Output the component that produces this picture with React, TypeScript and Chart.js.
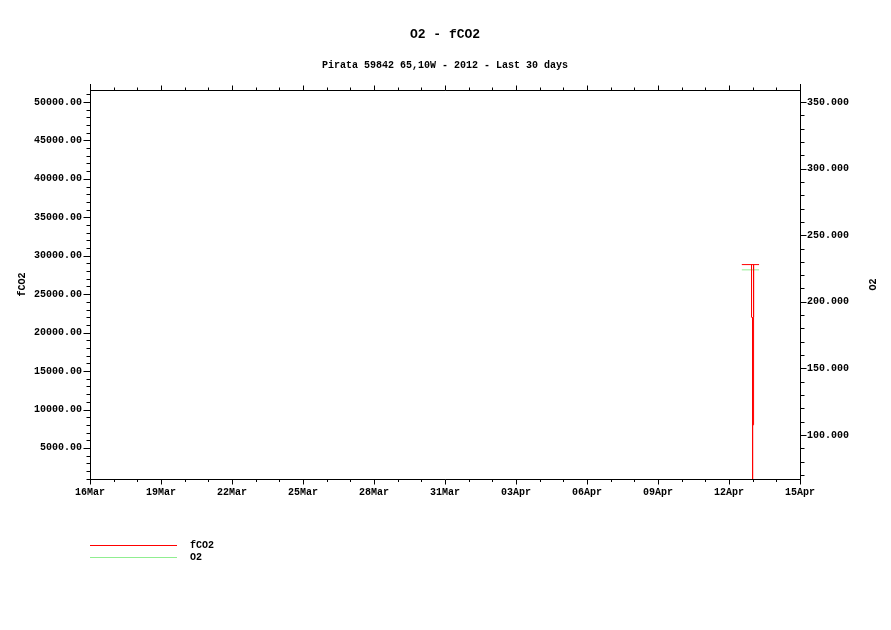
import React, { useEffect, useRef } from "react";
import { Chart, registerables } from "chart.js";

Chart.register(...registerables);

// ---------- text ----------
const TITLE = "O2 - fCO2";
const SUBTITLE = "Pirata 59842 65,10W - 2012 - Last 30 days";
const FCO2_LABEL = "fCO2";
const O2_LABEL = "O2";

// ---------- time axis ----------
const START_DATE = "2012-03-16T00:00";
const X_MIN_DAY = 0;
const X_MAX_DAY = 30;
const X_LABEL_STEP_DAYS = 3;
const xTickLabels = ["16Mar", "19Mar", "22Mar", "25Mar", "28Mar", "31Mar", "03Apr", "06Apr", "09Apr", "12Apr", "15Apr"];

// ---------- value axes ----------
const FCO2_AXIS_MIN = 960;
const FCO2_AXIS_MAX = 51560;
const FCO2_MINOR_STEP = 1000;
const fco2TickValues = [5000, 10000, 15000, 20000, 25000, 30000, 35000, 40000, 45000, 50000];

const O2_AXIS_MIN = 67;
const O2_AXIS_MAX = 359;
const O2_MINOR_STEP = 10;
const o2TickValues = [100, 150, 200, 250, 300, 350];

// ---------- series (null value = break in the trace) ----------
const fco2Times = [
  "2012-04-12T13:00", "2012-04-13T06:30", "2012-04-13T06:30",
  "2012-04-12T22:50", "2012-04-12T22:50", "2012-04-12T22:50",
  "2012-04-13T00:55", "2012-04-13T00:55", "2012-04-13T00:55",
  "2012-04-12T23:55", "2012-04-12T23:55", "2012-04-13T00:55", "2012-04-13T00:55", "2012-04-13T00:55",
  "2012-04-12T23:55", "2012-04-12T23:55",
];
const fco2Values = [
  28850, 28850, null,
  28850, 22000, null,
  28850, 22000, null,
  22000, 8000, 8000, 22000, null,
  8000, 600,
];

const o2Times = ["2012-04-12T13:00", "2012-04-13T06:30"];
const o2Values = [224, 224];

// ---------- style ----------
const FCO2_COLOR = "#ff0000";
const O2_COLOR = "#90ee90";
const FONT_FAMILY = '"Liberation Mono", "DejaVu Sans Mono", monospace';

const DAY_MS = 86400000;
const startMs = Date.parse(START_DATE + ":00Z");
const toDay = (s: string) => (Date.parse(s + ":00Z") - startMs) / DAY_MS;

const framePlugin = {
  id: "frame",
  afterDraw(chart: any) {
    const { ctx, chartArea } = chart;
    const { left, right, top, bottom } = chartArea;
    const xs = chart.scales.x;
    const ys = chart.scales.y;
    const y1s = chart.scales.y1;
    const L = Math.round(left) + 0.5;
    const R = Math.round(right) + 0.5;
    const T = Math.round(top) + 0.5;
    const B = Math.round(bottom) + 0.5;
    ctx.save();
    ctx.strokeStyle = "#000";
    ctx.lineWidth = 1;
    ctx.beginPath();
    // axes
    ctx.moveTo(L, T - 6.5); ctx.lineTo(L, B);
    ctx.moveTo(R, T - 6.5); ctx.lineTo(R, B);
    ctx.moveTo(L - 0.5, B); ctx.lineTo(R + 0.5, B);
    ctx.moveTo(L - 0.5, T); ctx.lineTo(R + 0.5, T);
    // x ticks (one per day, longer every label step)
    for (let d = X_MIN_DAY; d <= X_MAX_DAY; d++) {
      const px = Math.round(xs.getPixelForValue(d)) + 0.5;
      const major = d % X_LABEL_STEP_DAYS === 0;
      ctx.moveTo(px, B); ctx.lineTo(px, B + (major ? 5 : 2.5));
      ctx.moveTo(px, T); ctx.lineTo(px, T - (major ? 5 : 3));
    }
    // left ticks
    for (let v = Math.ceil(FCO2_AXIS_MIN / FCO2_MINOR_STEP) * FCO2_MINOR_STEP; v <= FCO2_AXIS_MAX; v += FCO2_MINOR_STEP) {
      const py = Math.round(ys.getPixelForValue(v)) + 0.5;
      const major = fco2TickValues.includes(v);
      ctx.moveTo(L, py); ctx.lineTo(L - (major ? 7 : 4), py);
    }
    // right ticks
    for (let v = Math.ceil(O2_AXIS_MIN / O2_MINOR_STEP) * O2_MINOR_STEP; v <= O2_AXIS_MAX; v += O2_MINOR_STEP) {
      const py = Math.round(y1s.getPixelForValue(v)) + 0.5;
      const major = o2TickValues.includes(v);
      ctx.moveTo(R, py); ctx.lineTo(R + (major ? 6 : 4), py);
    }
    ctx.stroke();

    // titles
    const cx = (left + right) / 2;
    const cy = (top + bottom) / 2;
    ctx.fillStyle = "#000";
    ctx.textAlign = "center";
    ctx.textBaseline = "middle";
    ctx.font = `bold 13px ${FONT_FAMILY}`;
    ctx.fillText(TITLE, cx, 35);
    ctx.font = `bold 10px ${FONT_FAMILY}`;
    ctx.fillText(SUBTITLE, cx, 65);

    // axis titles
    ctx.save();
    ctx.translate(22, cy);
    ctx.rotate(-Math.PI / 2);
    ctx.fillText(FCO2_LABEL, 0, 0);
    ctx.restore();
    ctx.save();
    ctx.translate(873, cy);
    ctx.rotate(-Math.PI / 2);
    ctx.fillText(O2_LABEL, 0, 0);
    ctx.restore();

    // legend
    chart.data.datasets.forEach((ds: any, i: number) => {
      const ly = 545.5 + i * 12;
      ctx.strokeStyle = ds.borderColor;
      ctx.beginPath();
      ctx.moveTo(L - 0.5, ly);
      ctx.lineTo(177, ly);
      ctx.stroke();
      ctx.fillStyle = "#000";
      ctx.textAlign = "left";
      ctx.fillText(ds.label, 190, ly);
    });
    ctx.restore();
  },
};

export default function App() {
  const canvasRef = useRef<HTMLCanvasElement | null>(null);

  useEffect(() => {
    if (!canvasRef.current) return;
    const fco2Data = fco2Times.map((t, i) => ({ x: toDay(t), y: fco2Values[i] }));
    const o2Data = o2Times.map((t, i) => ({ x: toDay(t), y: o2Values[i] }));
    const tickFont = { family: FONT_FAMILY, size: 10, weight: "bold" as const };
    const xTickValues = xTickLabels.map((_, i) => X_MIN_DAY + i * X_LABEL_STEP_DAYS);

    const chart = new Chart(canvasRef.current, {
      type: "line",
      data: {
        datasets: [
          {
            label: FCO2_LABEL,
            data: fco2Data as any,
            yAxisID: "y",
            borderColor: FCO2_COLOR,
            borderWidth: 1,
            pointRadius: 0,
            spanGaps: false,
            tension: 0,
          },
          {
            label: O2_LABEL,
            data: o2Data as any,
            yAxisID: "y1",
            borderColor: O2_COLOR,
            borderWidth: 1,
            pointRadius: 0,
            spanGaps: false,
            tension: 0,
          },
        ],
      },
      options: {
        responsive: false,
        animation: false,
        devicePixelRatio: 1,
        layout: { padding: { top: 90, left: 0, right: 0, bottom: 0 } },
        plugins: {
          legend: { display: false },
          title: { display: false },
          tooltip: { enabled: false },
        },
        scales: {
          x: {
            type: "linear",
            min: X_MIN_DAY,
            max: X_MAX_DAY,
            afterFit: (s: any) => { s.height = 151; },
            afterBuildTicks: (s: any) => { s.ticks = xTickValues.map((v) => ({ value: v })); },
            grid: { display: false, drawTicks: false },
            border: { display: false },
            ticks: {
              autoSkip: false,
              maxRotation: 0,
              padding: 7,
              color: "#000",
              font: tickFont,
              callback: (v: any) => {
                const i = xTickValues.indexOf(Number(v));
                return i >= 0 ? xTickLabels[i] : "";
              },
            },
          },
          y: {
            type: "linear",
            position: "left",
            min: FCO2_AXIS_MIN,
            max: FCO2_AXIS_MAX,
            afterFit: (s: any) => { s.width = 90; },
            afterBuildTicks: (s: any) => { s.ticks = fco2TickValues.map((v) => ({ value: v })); },
            grid: { display: false, drawTicks: false },
            border: { display: false },
            ticks: {
              autoSkip: false,
              padding: 8,
              color: "#000",
              font: tickFont,
              callback: (v: any) => Number(v).toFixed(2),
            },
          },
          y1: {
            type: "linear",
            position: "right",
            min: O2_AXIS_MIN,
            max: O2_AXIS_MAX,
            afterFit: (s: any) => { s.width = 91; },
            afterBuildTicks: (s: any) => { s.ticks = o2TickValues.map((v) => ({ value: v })); },
            grid: { display: false, drawTicks: false },
            border: { display: false },
            ticks: {
              autoSkip: false,
              padding: 7,
              color: "#000",
              font: tickFont,
              callback: (v: any) => Number(v).toFixed(3),
            },
          },
        },
      },
      plugins: [framePlugin],
    });
    return () => chart.destroy();
  }, []);

  return (
    <div style={{ position: "absolute", left: 0, top: 0, width: 891, height: 630, background: "#fff" }}>
      <canvas ref={canvasRef} width={891} height={630} style={{ display: "block" }} />
    </div>
  );
}
